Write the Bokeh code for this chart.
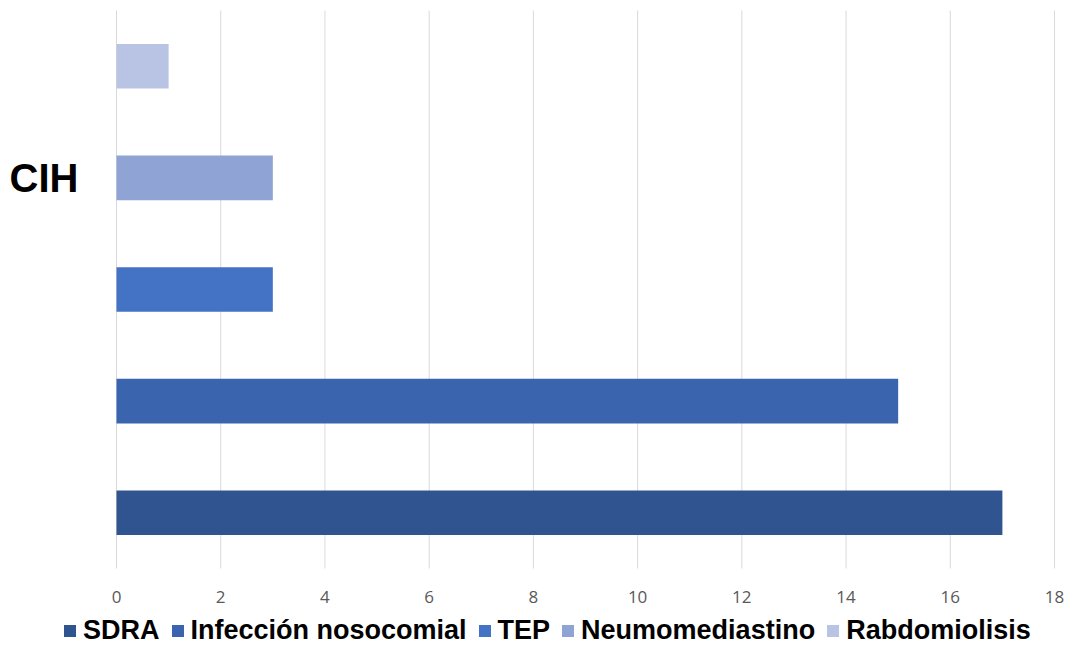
from bokeh.plotting import figure
from bokeh.models import Range1d, Legend, LegendItem
from bokeh.core.properties import value
from bokeh.embed import file_html
from bokeh.resources import INLINE

category = "CIH"
series = ["SDRA", "Infección nosocomial", "TEP", "Neumomediastino", "Rabdomiolisis"]
values = [17, 15, 3, 3, 1]
colors = ["#30548F", "#3A64AE", "#4472C4", "#8FA3D5", "#B9C3E3"]
x_ticks = [0, 2, 4, 6, 8, 10, 12, 14, 16, 18]

W, H = 1066, 643
# plot area in screen pixels (frame covers the whole canvas)
left_px, right_px, top_px, bottom_px = 116, 1054, 10, 568
x0, x1 = 0, 18
y0, y1 = -0.5, len(series) - 0.5
sx = (right_px - left_px) / (x1 - x0)
sy = (bottom_px - top_px) / (y1 - y0)

p = figure(width=W, height=H, output_backend="svg", toolbar_location=None,
           x_axis_location=None, y_axis_location=None,
           x_range=Range1d(x0 - left_px / sx, x1 + (W - right_px) / sx),
           y_range=Range1d(y0 - (H - bottom_px) / sy, y1 + top_px / sy),
           min_border_left=0, min_border_right=0, min_border_top=0, min_border_bottom=0)
p.outline_line_color = None
p.background_fill_color = "white"
p.border_fill_color = "white"
p.grid.visible = False

# vertical gridlines at the tick values, over the category band
p.segment(x0=x_ticks, x1=x_ticks, y0=y0, y1=y1, line_color="#d9d9d9", line_width=1)

items = []
for i, (name, v, c) in enumerate(zip(series, values, colors)):
    r = p.hbar(y=[i], right=[v], left=0, height=0.4, fill_color=c, line_color=None)
    items.append(LegendItem(label=name, renderers=[r]))

# x tick labels
p.text(x=x_ticks, y=y0, text=[str(t) for t in x_ticks], y_offset=28,
       text_align="center", text_baseline="middle",
       text_font=value("Open Sans"), text_font_size="17px", text_color="#595959")

# category label
p.text(x=[x0], y=[3], text=[category], x_offset=-38,
       text_align="right", text_baseline="middle",
       text_font=value("Liberation Sans"), text_font_style="bold",
       text_font_size="40px", text_color="black")

legend = Legend(items=items, orientation="horizontal", location=(62, -3),
                label_text_font="Liberation Sans", label_text_font_style="bold",
                label_text_font_size="27px", label_text_color="black",
                glyph_width=15, glyph_height=15, label_standoff=6, spacing=10,
                padding=0, margin=0, border_line_color=None,
                background_fill_alpha=0)
p.add_layout(legend, "center")

open("out.html", "w").write(file_html(p, INLINE))
